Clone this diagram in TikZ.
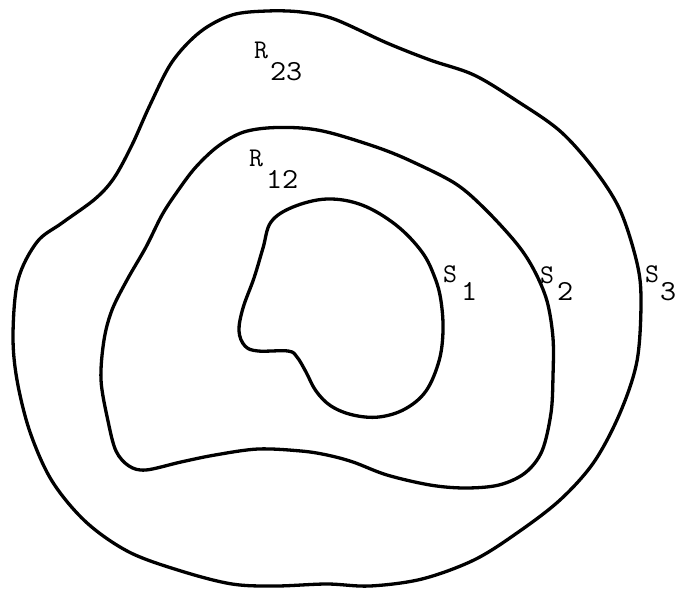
\documentclass[tikz,border=0pt]{standalone}
\usepackage{fontspec}
\usepackage{graphicx}
% #1 letter, #2 gap, #3 drop, #4 digits
\newcommand\lbltext[4]{{\ttfamily\addfontfeatures{FakeBold=1}\fontsize{27}{32}\selectfont #1\hspace{#2}\raisebox{-#3}{\fontsize{29}{34}\selectfont\scalebox{1.08}[1]{#4}}}}
\begin{document}
\begin{tikzpicture}[x=1pt,y=-1pt,
  contour/.style={line width=3.3pt, line join=round},
  lbl/.style={inner sep=0pt, anchor=base west}]
\useasboundingbox (0,0) rectangle (675,589);
% outer S3
\draw[contour] plot[smooth cycle, tension=0.55] coordinates {
 (200,32) (232,15) (267,11) (301,12) (334,19) (387,43) (430,60) (474,75)
 (517,101) (560,131) (594,169) (620,210) (637,263) (641,301) (637,361)
 (620,413) (594,462) (560,500) (517,533) (474,560) (422,579) (370,586)
 (327,584) (276,586) (232,584) (181,571) (129,552) (86,522) (52,481)
 (30,432) (17,380) (13,335) (18,280) (37,242) (62,223) (95,199) (114,178)
 (132,145) (150,105) (172,62)};
% middle S2
\draw[contour] plot[smooth cycle, tension=0.55] coordinates {
 (217,147) (241,133) (267,128) (301,128) (331,133) (379,148) (413,162)
 (456,184) (486,210) (517,244) (534,270) (547,301) (553,338) (553,376)
 (551,413) (542,451) (525,473) (499,485) (465,488) (430,485) (387,475)
 (353,462) (327,455) (301,451) (258,449) (215,455) (181,462) (146,470)
 (129,466) (116,451) (108,421) (101,380) (104,340) (112,310) (127,280)
 (146,247) (162,215) (177,192) (195,168)};
% inner S1
\draw[contour] plot[smooth cycle, tension=0.6] coordinates {
 (263,248) (271,222) (293,207) (327,199) (362,205) (396,225) (422,252)
 (435,278) (441,301) (443,331) (439,361) (426,391) (405,409) (379,417)
 (353,415) (331,406) (316,391) (306,372) (297,357) (288,351) (258,351)
 (245,346) (239,331) (243,308) (254,278)};
% labels
\node[lbl] (r23) at (254,58) {\lbltext{R}{2pt}{22pt}{23}};
\node[lbl] (r12) at (249,166) {\lbltext{R}{3pt}{22pt}{12}};
\node[lbl] (s1) at (443,282) {\lbltext{S}{4pt}{18pt}{1}};
\node[lbl] (s2) at (540,283) {\lbltext{S}{3pt}{17pt}{2}};
\node[lbl] (s3) at (645,282) {\lbltext{S}{1pt}{18pt}{3}};
\end{tikzpicture}
\end{document}
